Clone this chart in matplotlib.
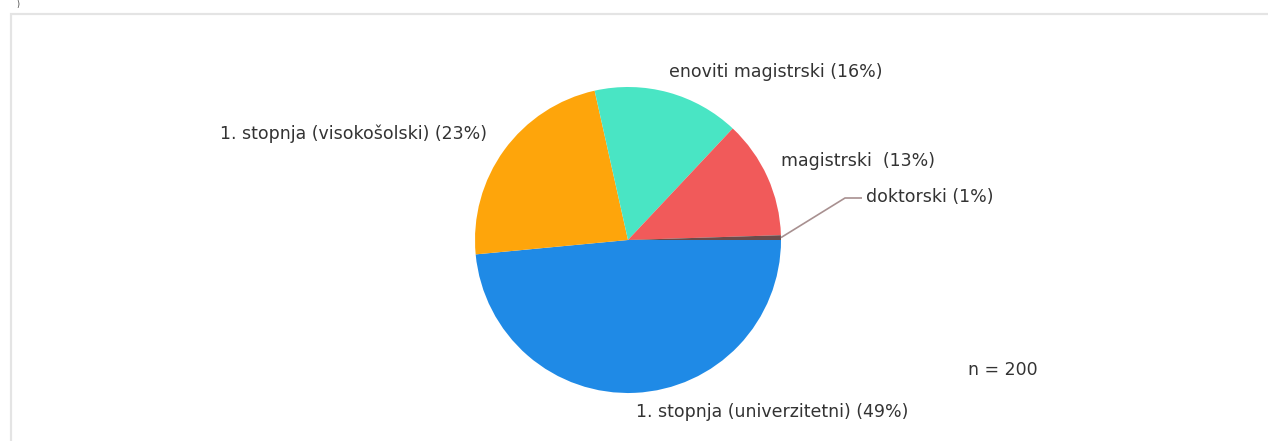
import matplotlib
matplotlib.use("Agg")
import matplotlib.pyplot as plt
from matplotlib.patches import Rectangle
import numpy as np

categories = ["1. stopnja (univerzitetni)", "1. stopnja (visokošolski)",
              "enoviti magistrski", "magistrski ", "doktorski"]
counts = [97, 46, 31, 25, 1]
percent_labels = ["49%", "23%", "16%", "13%", "1%"]
colors = ["#1f8ae6", "#fea50b", "#49e5c4", "#f15a5a", "#6a4c4c"]
n_total = 200

W, H = 1268, 441
fig = plt.figure(figsize=(W / 100, H / 100), dpi=100)
fig.patch.set_facecolor("white")

# outer frame
frame = Rectangle((10.5 / W, -0.1), 1.2, (H - 13.5) / H + 0.1,
                  transform=fig.transFigure, fill=False,
                  edgecolor="#e4e4e4", linewidth=1.6)
fig.add_artist(frame)
fig.text(18 / W, 1 - 0.5 / H, ")", fontsize=5.5, color="#333333",
         ha="center", va="top", family="DejaVu Sans")

cx, cy, r = 628, 240, 153
ax = fig.add_axes([(cx - r) / W, (H - cy - r) / H, 2 * r / W, 2 * r / H])
ax.pie(counts, colors=colors, startangle=0, counterclock=False, radius=1,
       wedgeprops=dict(linewidth=0))
ax.set_xlim(-1, 1)
ax.set_ylim(-1, 1)
ax.set_aspect("auto")
ax.axis("off")

def px(x, y):
    return ((x - cx) / r, (cy - y) / r)

fs = 12.5
tc = "#333333"
labels = [f"{c} ({p})" for c, p in zip(categories, percent_labels)]
# label positions in pixel space (layout)
pos = [
    (636, 412, "left"),
    (487, 134, "right"),
    (669, 72, "left"),
    (781, 161, "left"),
    (866, 197, "left"),
]
for lab, (x, y, ha) in zip(labels, pos):
    tx, ty = px(x, y)
    ax.text(tx, ty, lab, fontsize=fs, color=tc, ha=ha, va="center",
            clip_on=False, family="DejaVu Sans")

# leader line for the smallest slice
ang = np.deg2rad(-(360 * (sum(counts) - counts[-1] / 2) / sum(counts)))
x0, y0 = np.cos(ang), np.sin(ang)
bx, by = px(845, 198)
ex, _ = px(862, 198)
ax.plot([x0, bx, ex], [y0, by, by], color="#a89090", linewidth=1.2,
        clip_on=False, solid_capstyle="butt")

nx, ny = px(968, 370)
ax.text(nx, ny, f"n = {n_total}", fontsize=fs, color=tc, ha="left",
        va="center", clip_on=False, family="DejaVu Sans")

fig.savefig("out.png", dpi=100, facecolor="white")
